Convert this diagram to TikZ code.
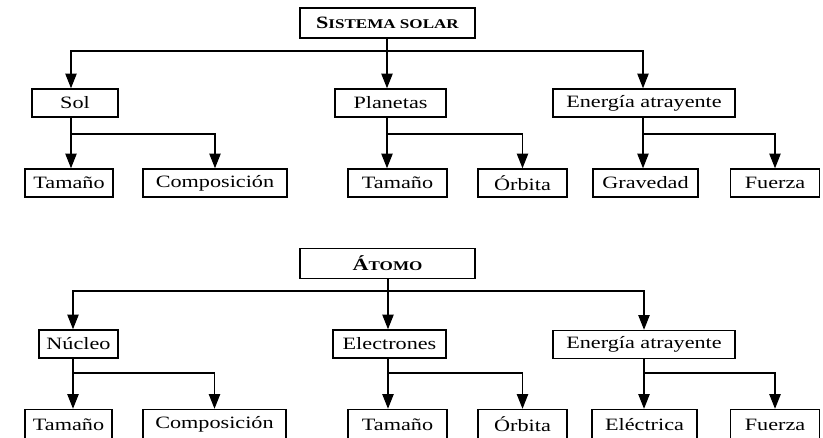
\documentclass[tikz,border=0pt]{standalone}
\usepackage{fontspec}
\setmainfont{Liberation Serif}[FakeStretch=1.28]
\usetikzlibrary{arrows.meta, positioning, calc}
\newlength{\pxu}
\setlength{\pxu}{0.75pt}
% 見出し用（大文字＋小さい大文字）
\newcommand{\versal}[2]{\textbf{#1{\fontsize{10}{12}\selectfont #2}}}

\begin{document}
\begin{tikzpicture}[
    x=0.75pt, y=-0.75pt,
    >={Triangle[length=11pt, width=8.5pt]}, % 矢印の形
    % 箱の基本デザイン
    caja/.style={rectangle, draw, line width=1.1pt, minimum height=28\pxu, inner sep=0pt, font=\fontsize{13}{15}\selectfont},
    cajab/.style={caja, minimum height=30\pxu},
    titulo/.style={caja, minimum width=175\pxu, minimum height=30\pxu},
    % 接続線
    linea/.style={->, line width=0.95pt}
]
\useasboundingbox (0,0) rectangle (823,437);
\clip (0,0) rectangle (823,437);

% 1. 上の図（Sistema solar）
\node [titulo] (sistema) at (387.5,23) {\versal{S}{ISTEMA SOLAR}};
\node [caja, minimum width=86\pxu] (sol) at (75,103) {Sol};
\node [caja, minimum width=111\pxu] (planetas) at (390.5,103) {Planetas};
\node [caja, minimum width=182\pxu] (energia) at (644,103) {Energía atrayente};
\node [caja, minimum width=88\pxu] (tam1) at (69,183) {Tamaño};
\node [caja, minimum width=144\pxu] (comp1) at (215,183) {Composición};
\node [caja, minimum width=99\pxu] (tam2) at (397.5,183) {Tamaño};
\node [caja, minimum width=89\pxu] (orb1) at (522.5,183) {Órbita};
\node [caja, minimum width=105\pxu] (grav) at (645.5,183) {Gravedad};
\node [caja, minimum width=89\pxu] (fuer1) at (775,183) {Fuerza};

\coordinate (b1) at (387,51);
\coordinate (b2) at (71,134);
\coordinate (b3) at (387,134);
\coordinate (b4) at (643,134);

\draw [linea] (b1 |- sistema.south) -- (b1 |- planetas.north);
\draw [linea] (b1) -| (b2 |- sol.north);
\draw [linea] (b1) -| (b4 |- energia.north);
\draw [linea] (b2 |- sol.south) -- (b2 |- tam1.north);
\draw [linea] (b2) -| (comp1.north);
\draw [linea] (b3 |- planetas.south) -- (b3 |- tam2.north);
\draw [linea] (b3) -| (orb1.north);
\draw [linea] (b4 |- energia.south) -- (b4 |- grav.north);
\draw [linea] (b4) -| (fuer1.north);

% 2. 下の図（Átomo）
\node [titulo] (atomo) at (387.5,263.5) {\versal{Á}{TOMO}};
\node [caja, minimum width=79\pxu] (nucleo) at (78.5,344) {Núcleo};
\node [caja, minimum width=113\pxu] (electrones) at (389.5,344) {Electrones};
\node [caja, minimum width=182\pxu] (energia2) at (644,344.5) {Energía atrayente};
\node [cajab, minimum width=87\pxu] (tam3) at (68.5,424.5) {Tamaño};
\node [cajab, minimum width=143\pxu] (comp2) at (214.5,424.5) {Composición};
\node [cajab, minimum width=99\pxu] (tam4) at (397.5,424.5) {Tamaño};
\node [cajab, minimum width=89\pxu] (orb2) at (522.5,424.5) {Órbita};
\node [cajab, minimum width=105\pxu] (elec) at (644.5,424.5) {Eléctrica};
\node [cajab, minimum width=89\pxu] (fuer2) at (775,424.5) {Fuerza};

\coordinate (b5) at (388,291);
\coordinate (b6) at (73,373);
\coordinate (b7) at (388,373);
\coordinate (b8) at (644,373);

\draw [linea] (b5 |- atomo.south) -- (b5 |- electrones.north);
\draw [linea] (b5) -| (b6 |- nucleo.north);
\draw [linea] (b5) -| (b8 |- energia2.north);
\draw [linea] (b6 |- nucleo.south) -- (b6 |- tam3.north);
\draw [linea] (b6) -| (comp2.north);
\draw [linea] (b7 |- electrones.south) -- (b7 |- tam4.north);
\draw [linea] (b7) -| (orb2.north);
\draw [linea] (b8 |- energia2.south) -- (b8 |- elec.north);
\draw [linea] (b8) -| (fuer2.north);

\end{tikzpicture}
\end{document}
